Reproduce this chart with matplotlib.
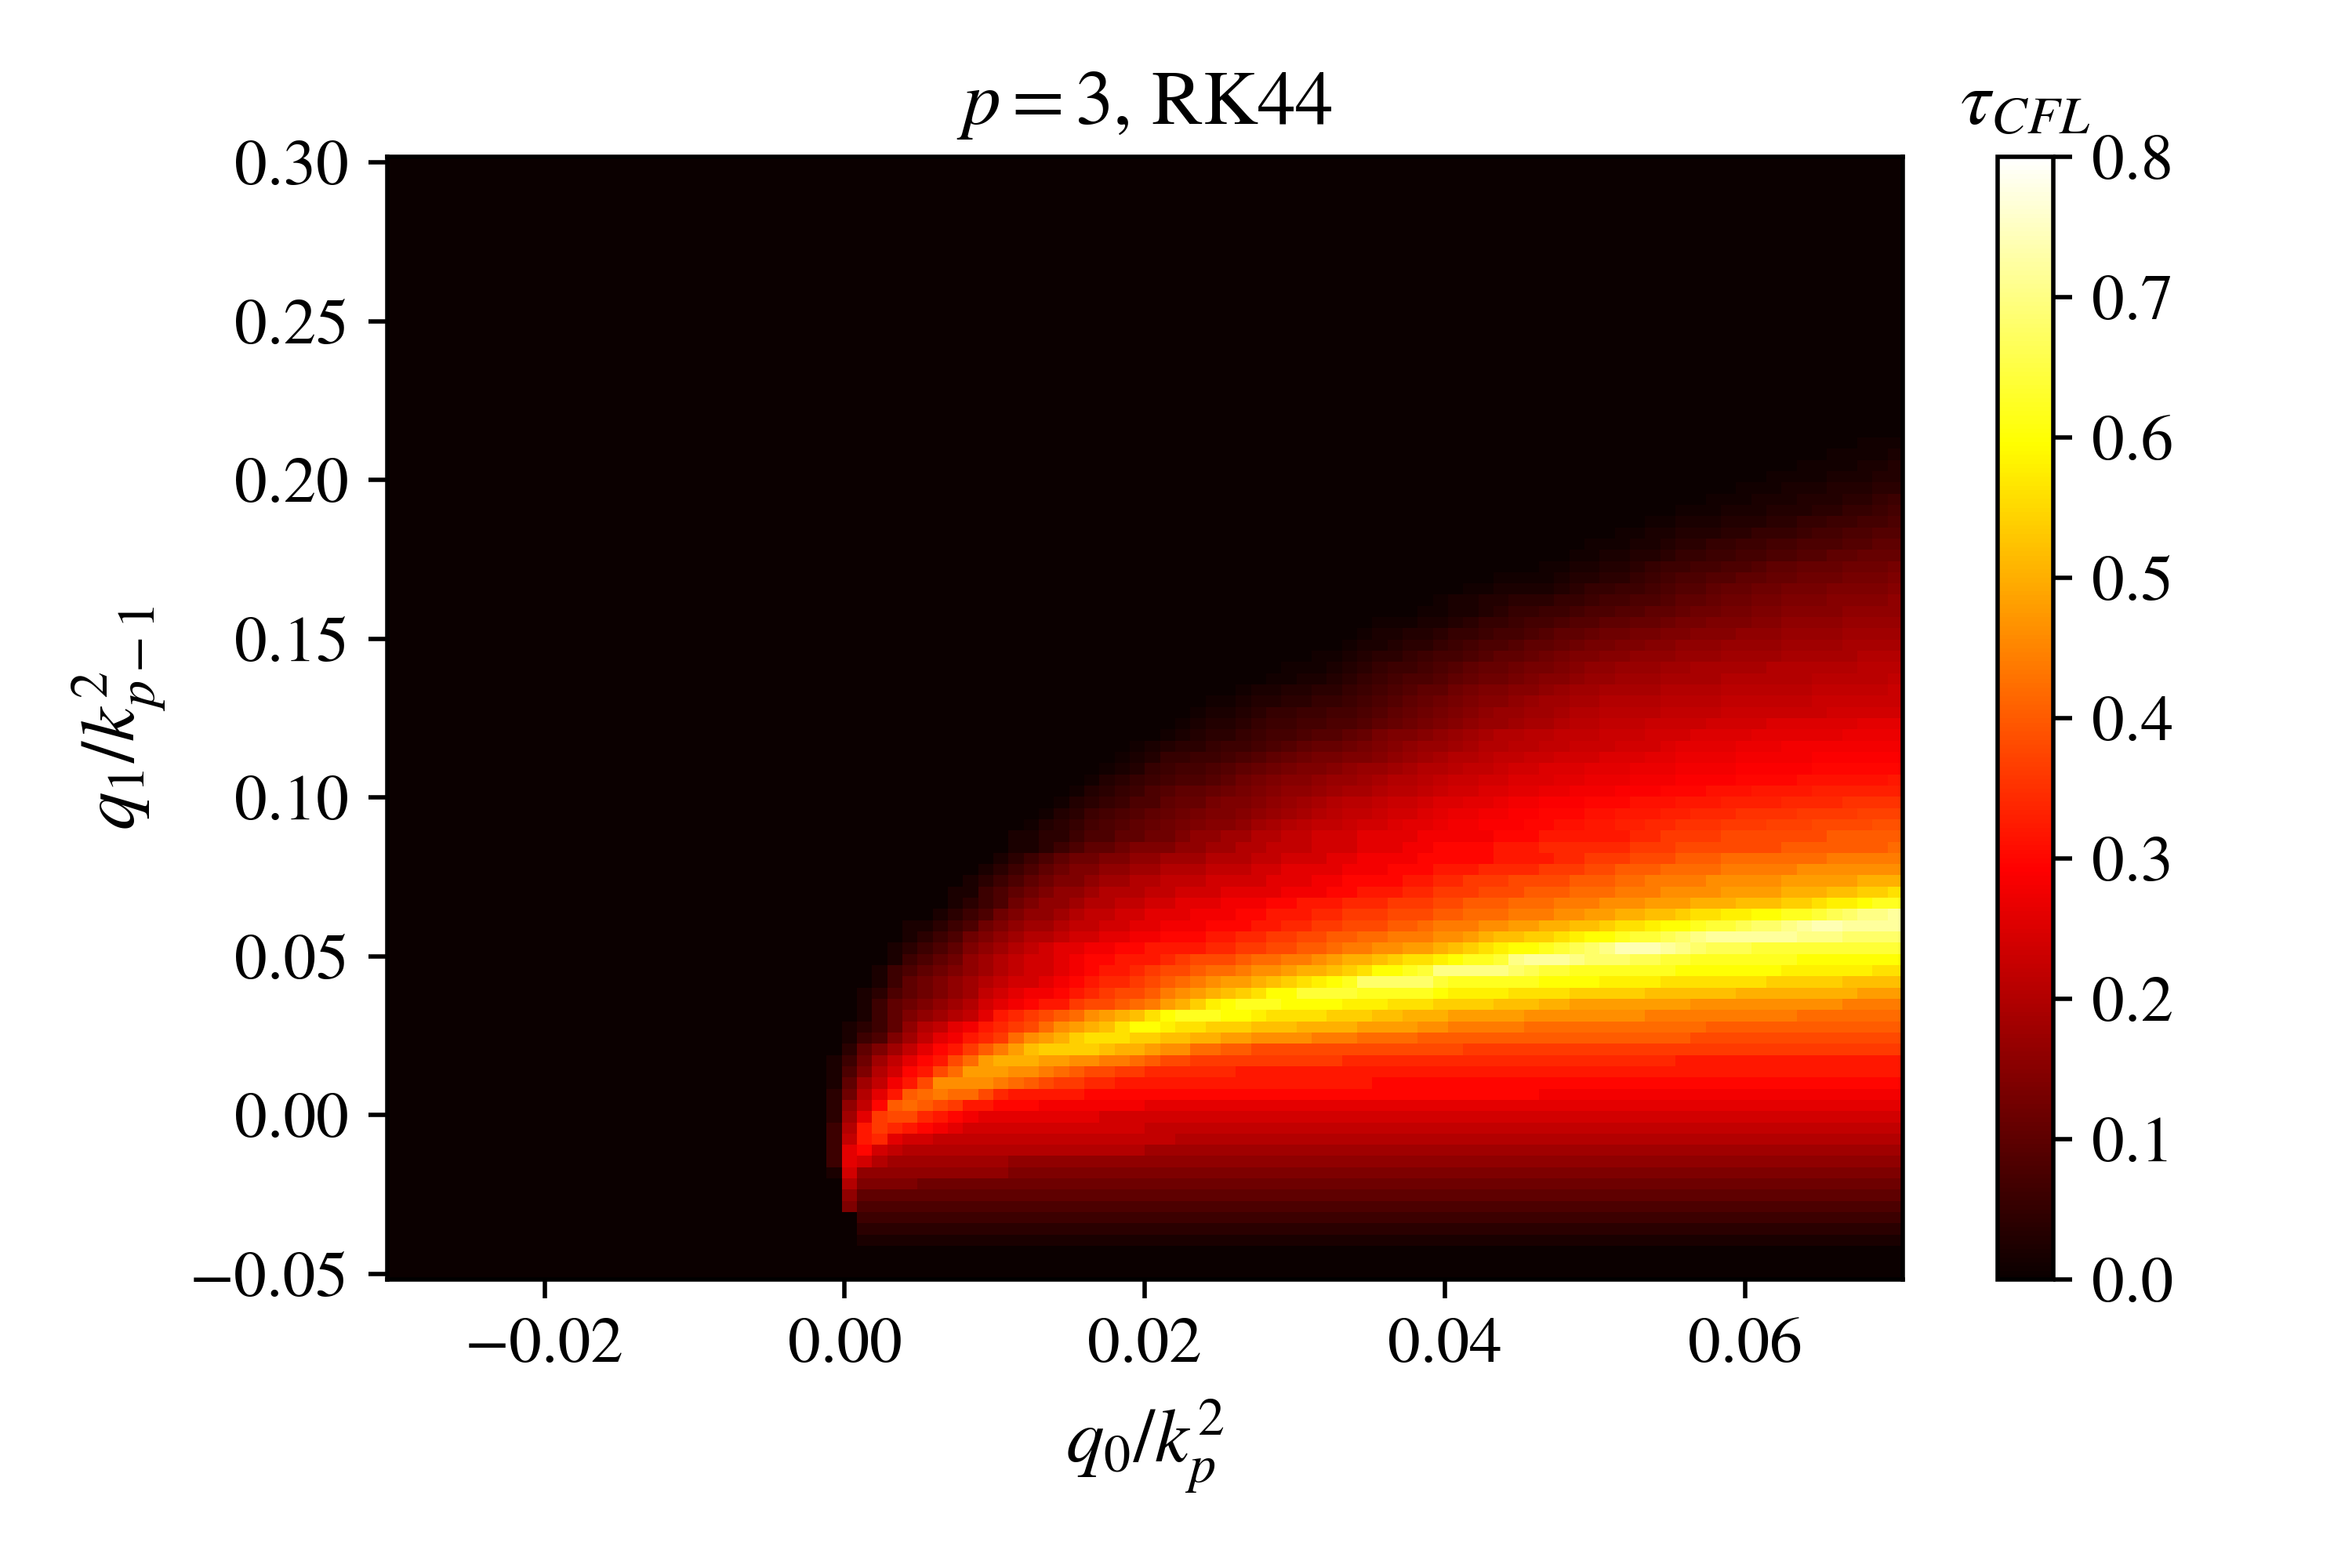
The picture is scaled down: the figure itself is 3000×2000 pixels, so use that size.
import numpy as np
import matplotlib
matplotlib.use("Agg")
import matplotlib.pyplot as plt

plt.rcParams["font.family"] = ["STIXGeneral"]
plt.rcParams["mathtext.fontset"] = "stix"
plt.rcParams["font.size"] = 12

# grid of the scan
Q0 = np.linspace(-0.03, 0.07, 100)
Q1 = np.linspace(-0.05, 0.30, 100)

# tau_CFL, one string per q1 row from the bottom up.
# each char is a level, strings are right aligned (last char is the q0 = 0.07
# column), missing cells on the left are level 0.
LEVELS = "0123456789abcdefghijklmnopqrstuvwxyzABCDE"

# lower rows, up to the ridge and a bit above it
LOW_STEP = 0.02
TAU_LOW_ROWS = [
    "",
    "",
    "",
    "0111111111 1111111111 1111111111 1111111111 1111111111 1111111111 1111111111",
    "0222222222 2222222222 2222222222 2222222222 2222222222 2222222222 2222222222",
    "0333333333 3333333333 3333333333 3333333333 3333333333 3333333333 3333333333",
    "7444444444 4444444444 4444444444 4444444444 4444444444 4444444444 4444444444",
    "8555555555 5555555555 5555555555 5555555555 5555555555 5555555555 5555555555",
    "a777766666 6666666666 6666666666 6666666666 6666666666 6666666666 6666666666",
    "1 c888888888 8777777777 7777777777 7777777777 7777777777 7777777777 7777777777",
    "3 dca9999999 9888888888 8888888888 8888888888 8888888888 8888888888 8888888888",
    "3 dfcbaaaaaa aaaaaaaaaa 9999999999 9999999999 9999999999 9999999999 9999999999",
    "3 bghdccbbbb bbbbbbbbbb bbaaaaaaaa aaaaaaaaaa aaaaaaaaaa aaaaaaaaaa aaaaaaaaaa",
    "3 agihgfedcc cccccccccc bbbbbbbbbb bbbbbbbbbb bbbbbbbbbb bbbbbbbbbb bbbbbbbbbb",
    "2 9dijjhgfed dddddddccc cccccccccc cccccccccc cccccccccc cccccccccc cccccccccc",
    "2 8bfklkjigg fffeeeeeee dddddddddd dddddddddd dddddddddd dddddddddd dddddddddd",
    "2 6adgklmllj hgggggffff ffffffffff ffffffffff ffffffeeee eeeeeeeeee eeeeeeeeee",
    "1 59begjnnnn mlkjiihhgg gggggggggg gggggfffff ffffffffff ffffffffff ffffffffff",
    "1 47acfgjloo onnmlkjjii hhhhhhgggg gggggggggg gggggggggg gggggggggg gggggggggg",
    "1 369bdfgjlo pppoonnmml kjjiiiiiii iiihhhhhhh hhhhhhhhhh hhhhhggggg gggggggggg",
    "2579bdfgik moqrrrrqpp onnllkkjjj jjjjjjjjjj jiiiiiiiii iiiiiiiiii iiiiiiiiii",
    "13479bdegh ilnoprsssr rqqppoonnn nmmmllllkk kkkkkkkkkk kkkkkkjjjj jjjjjjjjjj",
    "12358abdeg hijlnopqsu utssrrrqqq ppppoooonn mmmmmlllll lllllllkkk kkkkkkkkkk",
    "0135789abd ghijklnopq suvvvuutss ssrrrqqppp ooooonnnnn nnnmmmmmmm mmmlllllll",
    "01356789ac defggijjkl moprtuvvvu uuutttsssr rrrqqqppoo oooooonnnn nnnnnnmmmm",
    "012456789b cdeefghijj kmnopqrsuu wwwwvvvvvu ttttssssrr rrrqqqqqqp pppppppooo",
    "001356789a bccdefghhi jklmnoopqr stuvyyyyyw vvvvvvuuuu ttttssssss srrrrrqqqq",
    "0013456789 abccdefggh ijjkllmnno ppqrsuuvwz zzzzyxwwvv vvvvvuuuuu uuttttttss",
    "0001345689 abccdeffgg ghijjjkllm mnoppqrsst uvvwzAAAzy yyxxwwvvvv vvvuuuuuuu",
    "0001234578 9abcddeeff gggghhiijj kklmmnnoop qrstuuvwxy zBBBAzyxxx wwwwwwwwww",
    "0000123467 89aabccdde efffgghhii jjkkllmmmn nopqqrrstu uvwwxyzAAA AAAzzzyyyy",
    "0000112346 7899abbccd deeefffggh hiijjjkklm mmnnooppqq rsstuuvwwx yyzABBAAAA",
    "0000001234 67889abbcc dddeeeffgg ghhiiijjjk klllmmmnno oppqqrsstt uuvvwxyzzA",
    "0000000123 467889aabb ccdddeeeff ggghhhiiij jkkklllmmm nnnooopppq qqrrsttuvv",
    "0000000113 4567889aaa bbcccdddde eeffggghhi iijjjkkkll lmmmnnnnoo oopppqqrrs",
    "0000000012 345677899a abbbccccdd deeffffggh hiiijjjjkk kllmmmmnnn nnoooooppp",
    "0000000001 2345677889 9aaabbbccd dddeeefffg gghhhhiiij jkkkllllmm mmmnnnnnnn",
    "1234566778 8999aaabbc ccddeeeeff fffgggghhi iijjjkkkll lllllmmmmm",
    "0112345567 778899aabb bcccdddeef fffggghhhh hhiiijjjjj jjkkkkkkkl",
    "0112234455 6678899aab bcccddddee eeefffgggg gghhiiiijj jjjjjkkkkk",
]

# upper rows, dim values, read on a finer step
HIGH_STEP = 0.01
TAU_HIGH_ROWS = [
    "001345789a bcdeffgijk lmmnoopqqr sstttuuvvw wxxyyzzzAA ABBBCCCCDD",
    "0001346789 abcdeefghi jklmmnoopq rrssttuuuv vwwwxxyyyz zzzAAAABBB",
    "0000134568 8abbdeefgh ijkllmnnop pqqrsstttu uuvvvwwwxx xxyyyyzzzz",
    "0000013456 89aabcdefg ghijjkllmn ooppqqrrss stttuuuvvv wwwwxxxxxx",
    "0000001345 67889acdef fghhijkklm nnoopppqqr rrsssttttu uuuvvvvvvw",
    "0000000123 567789abcd eefghhijkk lmmnoopppq qqrrrsssst ttttuuuuuu",
    "0000000012 35566789ab cddeefghij kklmmnnooo pppqqrrrrs sssstttttt",
    "0000000001 2344566789 abbcdefghh ijkkllmmnn nooopqqqqr rrssssssss",
    "0123445677 899abdeefg hijkkllmmm nnnooopppp qqqqqqrrrr",
    "0012334566 77889abcde fghhijjkll mmmnnnnooo oppppppqqq",
    "0001223455 667789abcd efghhiijkk llllmmmmnn nnnnnooooo",
    "0000112334 4556789abc deffghiijj kkkkllllmm mmmmnnnnnn",
    "0000001223 34456789aa cdeeffghii jjjjkkkkll llllmmmmmn",
    "0000000011 2234567889 abccdeffgh hiiijjjjkk kkkklllllm",
    "0000000001 1123456678 9abbcddefg ghhhiijjjj jkkkkkklll",
    "0112344567 789aabcdee ffggghhhii iijjjjjkkk",
    "0001223445 67889aabcd deeffggghh hhiiiijjjj",
    "0000122334 5567789aab ccddeefffg gghhhhiiii",
    "0000011122 3455677899 aabbcddeee ffgggghhhh",
    "0000000011 2234556678 899aabccdd eeffffgggg",
    "0000000001 2233444556 77889aabcc ddeeeffffg",
    "0112222345 5667899abb ccdddeeeef",
    "0001111233 445678899a abbcccddde",
    "0000001122 3345667788 9aabbbcccd",
    "0000000011 2233455667 78899aabbb",
    "0000000001 1122344556 67788899aa",
    "0112233344 5556778899",
    "0001122233 3445566778",
    "0000011122 2333445567",
    "0000000111 2223334456",
    "0000000001 1122233344",
    "0111122233",
    "0001111223",
    "0000011112",
    "0000000111",
]

XTICKS = [-0.02, 0.00, 0.02, 0.04, 0.06]
YTICKS = [-0.05, 0.00, 0.05, 0.10, 0.15, 0.20, 0.25, 0.30]
CBAR_TICKS = [0.0, 0.1, 0.2, 0.3, 0.4, 0.5, 0.6, 0.7, 0.8]


def fill_rows(grid, rows, first, step):
    for i, row in enumerate(rows):
        cells = row.replace(" ", "")
        for k, ch in enumerate(cells):
            grid[first + i, grid.shape[1] - len(cells) + k] = LEVELS.index(ch) * step


tau = np.zeros((len(Q1), len(Q0)))
fill_rows(tau, TAU_LOW_ROWS, 0, LOW_STEP)
fill_rows(tau, TAU_HIGH_ROWS, len(TAU_LOW_ROWS), HIGH_STEP)

fig = plt.figure(figsize=(6, 4), dpi=500)
ax = fig.add_axes([0.1645, 0.184, 0.6445, 0.716])
mesh = ax.pcolormesh(Q0, Q1, tau, cmap="hot", vmin=0, vmax=0.8, shading="nearest")
ax.set_xticks(XTICKS)
ax.set_yticks(YTICKS)
ax.set_xlabel(r"$q_0/k_p^2$", fontsize=14)
ax.set_ylabel(r"$q_1/k_{p-1}^2$", fontsize=14)
ax.set_title(r"$p=3$, RK44", fontsize=14)

cax = fig.add_axes([0.8494, 0.184, 0.0236, 0.716])
cbar = fig.colorbar(mesh, cax=cax)
cbar.set_ticks(CBAR_TICKS)
cax.set_title(r"$\tau_{CFL}$", fontsize=14)

fig.savefig("out.png", dpi=500)
